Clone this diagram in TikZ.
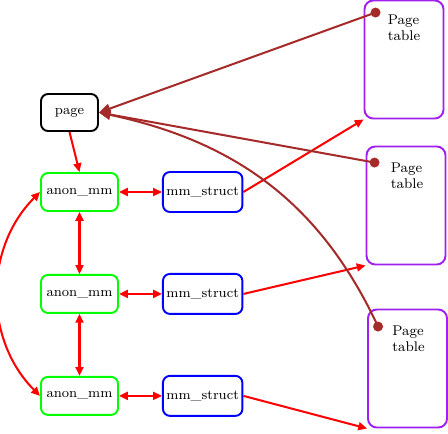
\documentclass[tikz,border=0pt]{standalone}
\usepackage{xcolor}
\usepackage{tikz}
\usetikzlibrary{positioning,arrows.meta,calc}
\definecolor{anongreen}{HTML}{00FF00}
\definecolor{mmblue}{HTML}{0000FF}
\definecolor{ptpurple}{HTML}{A020F0}
\definecolor{linkbrown}{HTML}{A52A2A}

\begin{document}
\begin{tikzpicture}[
    node distance=1.24cm and 0.86cm,
    every node/.style={font=\fontsize{7.8}{9}\selectfont},
    box/.style={draw, rounded corners=4pt, line width=1.1pt, minimum height=0.76cm,
                inner xsep=2pt, align=center},
    anon/.style={box, draw=anongreen, minimum width=1.54cm},
    mm/.style={box, draw=mmblue, minimum width=1.58cm, minimum height=0.8cm},
    ptable/.style={draw=ptpurple, rounded corners=5pt, line width=1.1pt, minimum width=1.58cm, minimum height=2.36cm},
    pttext/.style={anchor=north west, inner sep=0pt, align=left, font=\fontsize{8}{9.2}\selectfont},
    ptdot/.style={circle, fill=linkbrown, inner sep=0pt, minimum size=0.2cm},
    arr/.style={-{Triangle[length=5pt,width=4.5pt]}, red, line width=1.15pt},
    darr/.style={{Triangle[length=5pt,width=4.5pt]}-{Triangle[length=5pt,width=4.5pt]}, red, line width=1.15pt},
    barr/.style={{Triangle[length=6.5pt,width=5.5pt]}-, linkbrown, line width=1.15pt},
]
    \useasboundingbox (0,0) rectangle (8.96,-8.66);

    \node[box, minimum width=1.14cm, minimum height=0.74cm] (page) at (1.39,-2.25) {page};

    \node[anon] (am1) at (1.59,-3.84) {anon\_mm};
    \node[anon, below=of am1] (am2) {anon\_mm};
    \node[anon, below=of am2] (am3) {anon\_mm};

    \node[mm, right=of am1] (mm1) {mm\_struct};
    \node[mm, right=of am2] (mm2) {mm\_struct};
    \node[mm, right=of am3] (mm3) {mm\_struct};

    \node[ptable] (pt1) at (8.08,-1.19) {};
    \node[ptable] (pt2) at (8.12,-4.11) {};
    \node[ptable] (pt3) at (8.15,-7.37) {};
    \node[pttext] (pt1txt) at ($(pt1.north west)+(0.48,-0.3)$) {Page\\table};
    \node[pttext] (pt2txt) at ($(pt2.north west)+(0.5,-0.34)$) {Page\\table};
    \node[pttext] (pt3txt) at ($(pt3.north west)+(0.5,-0.34)$) {Page\\table};
    \node[ptdot] (pt1dot) at ($(pt1.north west)+(0.24,-0.26)$) {};
    \node[ptdot] (pt2dot) at ($(pt2.north west)+(0.18,-0.34)$) {};
    \node[ptdot] (pt3dot) at ($(pt3.north west)+(0.22,-0.36)$) {};

    \draw[arr] (page.south) -- (am1.north);
    \draw[darr] (am1) -- (mm1);
    \draw[darr] (am2) -- (mm2);
    \draw[darr] (am3) -- (mm3);
    \draw[darr] (am1) -- (am2);
    \draw[darr] (am2) -- (am3);
    \draw[darr] (am1.west) to[bend right=45] (am3.west);

    \draw[arr] (mm1.east) -- (pt1.south west);
    \draw[arr] (mm2.east) -- (pt2.south west);
    \draw[arr] (mm3.east) -- (pt3.south west);

    \draw[barr] (page.east) -- (pt1dot.center);
    \draw[barr] (page.east) -- (pt2dot.center);
    \draw[barr] (page.east) to[out=-12, in=115] (pt3dot.center);
\end{tikzpicture}
\end{document}
